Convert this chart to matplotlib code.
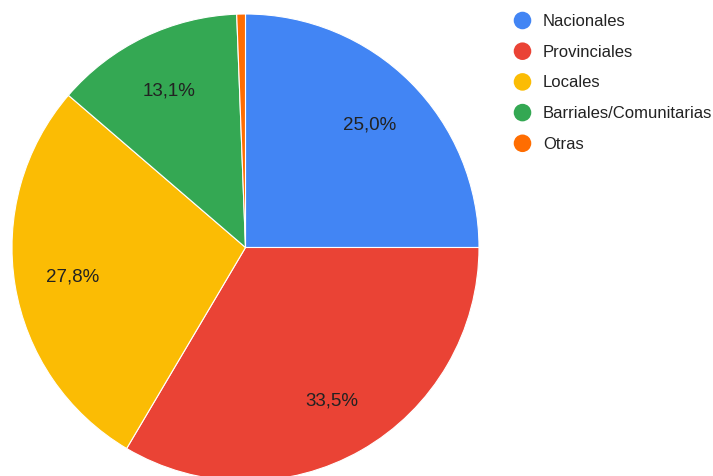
import matplotlib.pyplot as plt

categories = ['Nacionales', 'Provinciales', 'Locales', 'Barriales/Comunitarias', 'Otras']
values = [25.0, 33.5, 27.8, 13.1, 0.6]
colors = ['#4285f4', '#ea4335', '#fbbc04', '#34a853', '#ff6d01']

plt.rcParams['font.family'] = ['Liberation Sans', 'DejaVu Sans']

W, H = 713, 477
fig = plt.figure(figsize=(W / 100, H / 100), dpi=100)

# pie axes, positioned in pixels (center ~ (245.5, 248), r ~ 233.5)
cx, cy, r = 245.5, 248.5, 233.5
ax = fig.add_axes([(cx - r) / W, (H - cy - r) / H, 2 * r / W, 2 * r / H])


def fmt(p):
    if p < 5:
        return ''
    return f'{p:.1f}%'.replace('.', ',')


ax.pie(values, colors=colors, startangle=90, counterclock=False,
       autopct=fmt, pctdistance=0.75,
       wedgeprops=dict(linewidth=0.8, edgecolor='white'),
       textprops=dict(fontsize=13.5, color='#222222'))
ax.set_xlim(-1, 1)
ax.set_ylim(-1, 1)
ax.set_aspect('auto')
ax.axis('off')

# legend drawn in pixel coordinates
lax = fig.add_axes([0, 0, 1, 1])
lax.set_xlim(0, W)
lax.set_ylim(H, 0)
lax.axis('off')
for i, (name, col) in enumerate(zip(categories, colors)):
    y = 21.5 + i * 30.7
    lax.scatter([522.5], [y], s=160, color=col, edgecolors='none')
    lax.text(543, y, name, fontsize=12, color='#222222', va='center', ha='left')

fig.savefig('out.png', dpi=100)
